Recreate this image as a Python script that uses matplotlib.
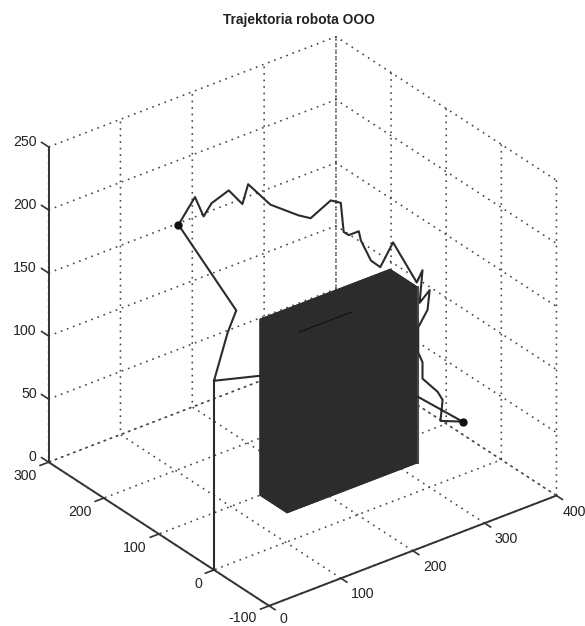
import matplotlib
matplotlib.use("Agg")
import matplotlib.pyplot as plt
from matplotlib.ticker import NullFormatter
from mpl_toolkits.mplot3d import proj3d

plt.rcParams['font.family'] = ['Liberation Sans', 'DejaVu Sans']
plt.rcParams['grid.linestyle'] = (0, (1.2, 3.5))
plt.rcParams['lines.scale_dashes'] = False
plt.rcParams['grid.color'] = '#444444'
plt.rcParams['grid.linewidth'] = 1.15

title = "Trajektoria robota OOO"
x_ticks = [0, 100, 200, 300, 400]
y_ticks = [-100, 0, 100, 200, 300]
z_ticks = [0, 50, 100, 150, 200, 250]

path_x = [0, 0, 19, 31, 104, 127, 139, 150, 174, 193, 201, 232, 271, 288, 316, 330, 334, 341, 355, 358, 372, 385,
          326, 359, 367, 363, 377, 374, 361, 361, 367, 367, 388, 395, 392, 346, 204, 0]
path_y = [0, 0, 0, 0, 200, 200, 200, 200, 200, 200, 200, 200, 200, 200, 200, 200, 200, 200, 200, 200, 200, 200,
          100, 100, 100, 100, 100, 100, 100, 100, 100, 100, 100, 100, 100, 0, 0, 0]
path_z = [0, 150, 184, 199, 194, 211, 193, 201, 206, 191, 205, 182, 165, 159, 167, 162, 138, 134, 134, 126, 107, 99,
          160, 121, 129, 104, 111, 96, 85, 65, 56, 43, 28, 20, 4, 42, 118, 150]
marker_x = [104, 346]
marker_y = [200, 0]
marker_z = [194, 42]

box_origin = (140, 50, 0)
box_size = (182, 50, 140)

W = 610
W_px, H_px = 585, 626
fig = plt.figure(figsize=(5.85, 6.26), dpi=100, facecolor='white')
cx, cy = 294.3, 296.5
ax = fig.add_axes([(cx - W / 2) / W_px, (cy - W / 2) / H_px, W / W_px, W / H_px],
                  projection='3d', computed_zorder=False)
ax.set_proj_type('ortho')
ax.view_init(elev=30, azim=-127.5)
ax.set_box_aspect((1, 1, 1.005))
ax.patch.set_alpha(0)

ax.set_xlim(0, 400)
ax.set_ylim(-100, 300)
ax.set_zlim(0, 250)
ax.set_xticks(x_ticks)
ax.set_yticks(y_ticks)
ax.set_zticks(z_ticks)
ax.grid(True)

for axis in (ax.xaxis, ax.yaxis, ax.zaxis):
    axis.set_pane_color((1, 1, 1, 0))
    axis.pane.set_edgecolor('none')
    axis.line.set_color('#333333')
    axis.line.set_linewidth(1.4)
    axis._axinfo['tick'].update(inward_factor=0.0, outward_factor=0.0)
    axis.set_major_formatter(NullFormatter())

tick_style = dict(color='#333333', lw=1.2, zorder=1.5, solid_capstyle='butt')
for v in x_ticks:
    ax.plot([v, v], [-100, -112], [0, 0], **tick_style)
for v in y_ticks:
    ax.plot([0, -13], [v, v], [0, 0], **tick_style)
for v in z_ticks:
    ax.plot([0, 0], [300, 314], [v, v], **tick_style)

ax.bar3d(*box_origin, *box_size, color='#2c2c2c', shade=False, zorder=2)
ax.plot([box_origin[0] + box_size[0]] * 2, [box_origin[1]] * 2, [0, box_size[2]],
        color='#484848', lw=1.5, zorder=2.5)
ax.plot([157, 230], [50, 50], [140, 140], color='#151515', lw=1, zorder=2.5)

ax.plot(path_x, path_y, path_z, color='#2b2b2b', lw=1.5, zorder=3)
ax.plot(marker_x, marker_y, marker_z, ls='none', marker='o', ms=5, color='#111111', zorder=4)


def tick_label(text, x, y, z, dx, dy, ha):
    sx, sy, _ = proj3d.proj_transform(x, y, z, ax.get_proj())
    ax.annotate(text, (sx, sy), xytext=(dx, dy), textcoords='offset pixels', ha=ha, va='center',
                fontsize=10.2, color='#222222', annotation_clip=False, zorder=5)


for v in x_ticks:
    tick_label(str(v), v, -100, 0, 6 if v == 400 else 10, -13 if v == 0 else -16, 'left')
for v in y_ticks:
    tick_label(str(v), 0, v, 0, -12, -12 if v == -100 else -14, 'right')
for v in z_ticks:
    tick_label(str(v), 0, 300, v, -12, 5, 'right')

fig.text(299 / W_px, 1 - 20 / H_px, title, ha='center', va='center', fontsize=9.9,
         fontweight='bold', color='#222222')

fig.savefig('out.png', dpi=100)
